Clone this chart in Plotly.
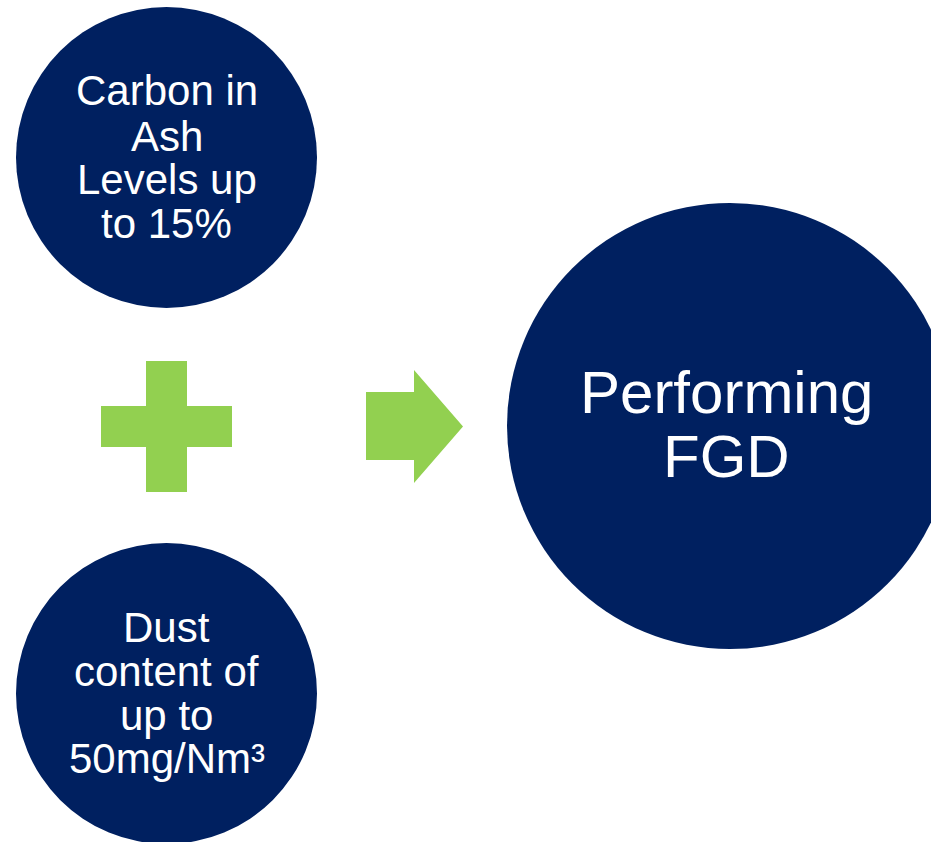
import plotly.graph_objects as go

W, H = 931, 842
NAVY = "#002060"
GREEN = "#92D050"
FONT = "Liberation Sans"

# Circles: centre x, centre y, radius (pixel space of the picture)
circle_cx = [166.5, 166.5, 730.0]
circle_cy = [157.5, 693.5, 426.0]
circle_r = [150.5, 150.5, 223.0]

# Labels: lines per circle, text centre x, line centre y, font size
label_lines = [
    ["Carbon in", "Ash", "Levels up", "to 15%"],
    ["Dust", "content of", "up to", "50mg/Nm³"],
    ["Performing", "FGD"],
]
label_x = [166.5, 166.5, 726.5]
label_line_y = [
    [90, 136, 179, 223],
    [627, 671, 715, 758],
    [392, 456],
]
label_size = [42, 42, 60]

# Plus sign geometry: centre, half arm length, half thickness
plus_cx, plus_cy = 166.5, 426.5
plus_half_len, plus_half_thick = 65.5, 20.5

# Arrow geometry: body left/right, body top/bottom, head top/bottom, tip x
arrow_body_x = [366, 414]
arrow_body_y = [392, 460]
arrow_head_y = [370, 483]
arrow_tip_x = 463

shapes = []
for cx, cy, r in zip(circle_cx, circle_cy, circle_r):
    shapes.append(dict(type="circle", xref="x", yref="y",
                       x0=cx - r, x1=cx + r, y0=cy - r, y1=cy + r,
                       fillcolor=NAVY, line=dict(width=0), layer="below"))

L, T = plus_half_len, plus_half_thick
shapes.append(dict(type="rect", xref="x", yref="y",
                   x0=plus_cx - T, x1=plus_cx + T, y0=plus_cy - L, y1=plus_cy + L,
                   fillcolor=GREEN, line=dict(width=0)))
shapes.append(dict(type="rect", xref="x", yref="y",
                   x0=plus_cx - L, x1=plus_cx + L, y0=plus_cy - T, y1=plus_cy + T,
                   fillcolor=GREEN, line=dict(width=0)))

bx0, bx1 = arrow_body_x
by0, by1 = arrow_body_y
hy0, hy1 = arrow_head_y
tip_y = (hy0 + hy1) / 2
path = (f"M {bx0} {by0} L {bx1} {by0} L {bx1} {hy0} L {arrow_tip_x} {tip_y} "
        f"L {bx1} {hy1} L {bx1} {by1} L {bx0} {by1} Z")
shapes.append(dict(type="path", xref="x", yref="y", path=path,
                   fillcolor=GREEN, line=dict(width=0)))

annotations = []
for xc, lines, ys, size in zip(label_x, label_lines, label_line_y, label_size):
    for txt, y in zip(lines, ys):
        annotations.append(dict(x=xc, y=y, xref="x", yref="y", text=txt,
                                showarrow=False, xanchor="center", yanchor="middle",
                                font=dict(family=FONT, size=size, color="white")))

fig = go.Figure()
fig.update_layout(
    width=W, height=H,
    margin=dict(l=0, r=0, t=0, b=0, pad=0),
    paper_bgcolor="white", plot_bgcolor="white",
    xaxis=dict(range=[0, W], visible=False, fixedrange=True),
    yaxis=dict(range=[H, 0], visible=False, fixedrange=True),
    shapes=shapes, annotations=annotations, showlegend=False,
)
post = ("document.documentElement.style.overflow='hidden';"
        "document.body.style.margin='0';document.body.style.overflow='hidden';")
fig.write_html("out.html", config={"displayModeBar": False}, post_script=post)
